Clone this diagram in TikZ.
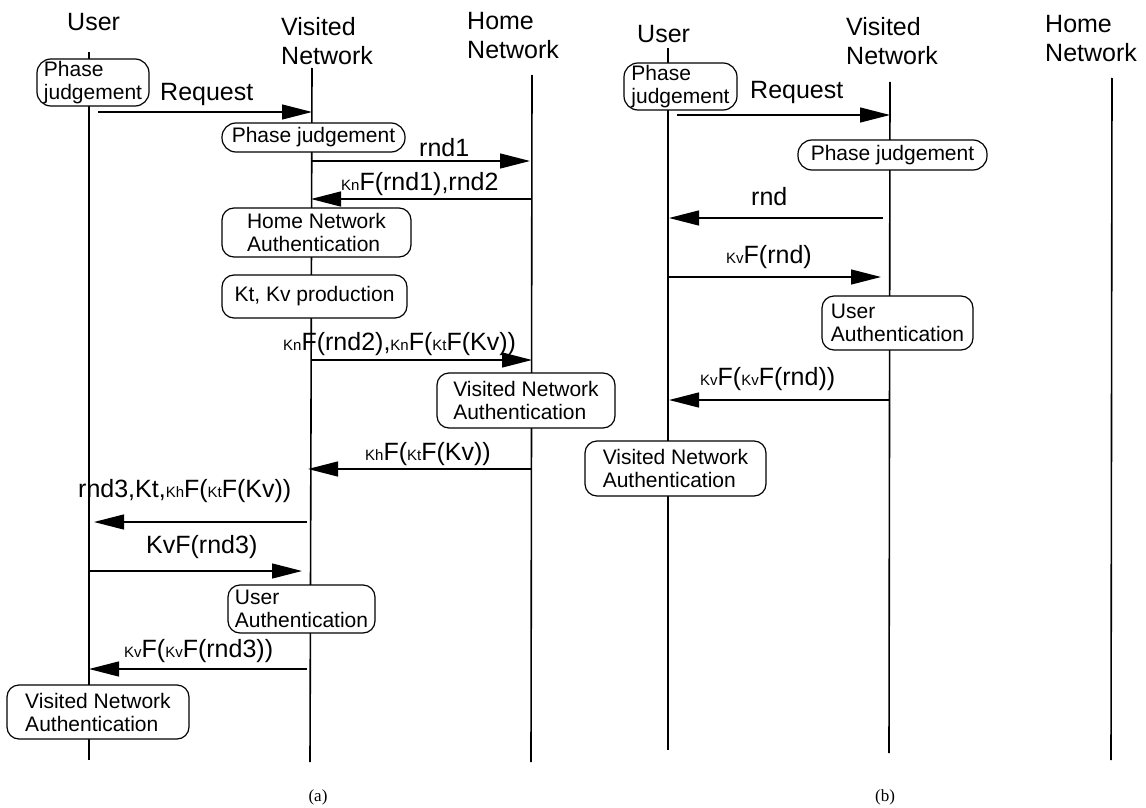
\documentclass[tikz,border=0pt]{standalone}
\usepackage{fontspec}
\setmainfont{Liberation Sans}
\newfontfamily\captionserif{Liberation Serif}
\usetikzlibrary{arrows.meta}
% small key index written in front of F(...)
\newcommand{\keyidx}[1]{{\fontsize{15}{15}\selectfont #1}}
\begin{document}
\begin{tikzpicture}[x=1pt,y=-1pt,
  life/.style={line width=1.6pt},
  msg/.style={line width=1.3pt,-{Triangle[length=30pt,width=15pt]}},
  box/.style={draw,line width=1.2pt,rounded corners=12pt,fill=white,align=center,
              inner sep=0pt,font=\fontsize{21}{23}\selectfont},
  pill/.style={box,rounded corners=14pt},
  head/.style={anchor=north west,inner sep=0pt,align=left,font=\fontsize{25}{29}\selectfont},
  lbl/.style={anchor=base west,inner sep=0pt,font=\fontsize{25}{29}\selectfont},
  figcap/.style={inner sep=0pt,font=\captionserif\fontsize{17}{20}\selectfont}]
\useasboundingbox[fill=white] (0,0) rectangle (1146,808);

% ---------------- (a) ----------------
\node[head] (Ua-h) at (67,13) {User};
\node[head] (Va-h) at (281,17) {Visited\\Network};
\node[head] (Ha-h) at (467,12) {Home\\Network};

\coordinate (Ua-t) at (89,52);   \coordinate (Ua-b) at (89,760);
\coordinate (Va-t) at (312,68);  \coordinate (Va-b) at (310,762);
\coordinate (Ha-t) at (532,75);  \coordinate (Ha-b) at (531,762);
\draw[life] (Ua-t) -- (Ua-b);
\draw[life] (Va-t) -- (Va-b);
\draw[life] (Ha-t) -- (Ha-b);

\node[pill,minimum width=112pt,minimum height=47pt,align=left] (a-pju) at (93,82.5) {Phase\\judgement};
\node[pill,minimum width=183pt,minimum height=29pt] (a-pjv) at (313.5,137.5) {Phase judgement};
\node[box,minimum width=189pt,minimum height=49pt,align=left] (a-hna) at (316.5,232.5) {Home Network\\Authentication};
\node[box,minimum width=185pt,minimum height=43pt] (a-kt) at (314.5,296.5) {Kt, Kv production};
\node[box,minimum width=178pt,minimum height=55pt,align=left] (a-vnah) at (526,400.5) {Visited Network\\Authentication};
\node[box,minimum width=147pt,minimum height=48pt,align=left] (a-ua) at (301.5,609) {User\\Authentication};
\node[box,minimum width=182pt,minimum height=54pt,align=left] (a-vnau) at (98,712) {Visited Network\\Authentication};

% messages of (a)
\coordinate (a1s) at (98,112);  \coordinate (a1e) at (312,112);
\coordinate (a2s) at (312,161); \coordinate (a2e) at (530,161);
\coordinate (a3s) at (532,199); \coordinate (a3e) at (311,199);
\coordinate (a4s) at (312,360); \coordinate (a4e) at (532,360);
\coordinate (a5s) at (532,469); \coordinate (a5e) at (308,469);
\coordinate (a6s) at (307,522); \coordinate (a6e) at (94,522);
\coordinate (a7s) at (89,571);  \coordinate (a7e) at (302,571);
\coordinate (a8s) at (307,669); \coordinate (a8e) at (89,669);
\draw[msg] (a1s) -- (a1e);
\draw[msg] (a2s) -- (a2e);
\draw[msg] (a3s) -- (a3e);
\draw[msg] (a4s) -- (a4e);
\draw[msg] (a5s) -- (a5e);
\draw[msg] (a6s) -- (a6e);
\draw[msg] (a7s) -- (a7e);
\draw[msg] (a8s) -- (a8e);

\node[lbl] (a1l) at (160,100) {Request};
\node[lbl] (a2l) at (419,156) {rnd1};
\node[lbl] (a3l) at (341,190) {\keyidx{Kn}F(rnd1),rnd2};
\node[lbl] (a4l) at (283,350) {\keyidx{Kn}F(rnd2),\keyidx{Kn}F(\keyidx{Kt}F(Kv))};
\node[lbl] (a5l) at (365,460) {\keyidx{Kh}F(\keyidx{Kt}F(Kv))};
\node[lbl] (a6l) at (78,497) {rnd3,Kt,\keyidx{Kh}F(\keyidx{Kt}F(Kv))};
\node[lbl] (a7l) at (146,553) {KvF(rnd3)};
\node[lbl] (a8l) at (124,657) {\keyidx{Kv}F(\keyidx{Kv}F(rnd3))};

\node[figcap] (capa) at (318,797) {(a)};

% ---------------- (b) ----------------
\node[head] (Ub-h) at (637,25) {User};
\node[head] (Vb-h) at (846,17) {Visited\\Network};
\node[head] (Hb-h) at (1045,15) {Home\\Network};

\coordinate (Ub-t) at (668,48);   \coordinate (Ub-b) at (668,750);
\coordinate (Vb-t) at (890,82);   \coordinate (Vb-b) at (889,753);
\coordinate (Hb-t) at (1112,78);  \coordinate (Hb-b) at (1111,760);
\draw[life] (Ub-t) -- (Ub-b);
\draw[life] (Vb-t) -- (Vb-b);
\draw[life] (Hb-t) -- (Hb-b);

\node[pill,minimum width=113pt,minimum height=47pt,align=left] (b-pju) at (680.5,86.5) {Phase\\judgement};
\node[pill,minimum width=189pt,minimum height=30pt] (b-pjv) at (892.5,155) {Phase judgement};
\node[box,minimum width=151pt,minimum height=54pt,align=left] (b-ua) at (897.5,323) {User\\Authentication};
\node[box,minimum width=181pt,minimum height=55pt,align=left] (b-vna) at (675.5,468.5) {Visited Network\\Authentication};

% messages of (b)
\coordinate (b1s) at (677,115); \coordinate (b1e) at (890,115);
\coordinate (b2s) at (883,218); \coordinate (b2e) at (669,218);
\coordinate (b3s) at (668,277); \coordinate (b3e) at (881,277);
\coordinate (b4s) at (890,400); \coordinate (b4e) at (669,400);
\draw[msg] (b1s) -- (b1e);
\draw[msg] (b2s) -- (b2e);
\draw[msg] (b3s) -- (b3e);
\draw[msg] (b4s) -- (b4e);

\node[lbl] (b1l) at (750,98) {Request};
\node[lbl] (b2l) at (751,205) {rnd};
\node[lbl] (b3l) at (726,263) {\keyidx{Kv}F(rnd)};
\node[lbl] (b4l) at (700,385) {\keyidx{Kv}F(\keyidx{Kv}F(rnd))};

\node[figcap] (capb) at (885,797) {(b)};
\end{tikzpicture}
\end{document}
